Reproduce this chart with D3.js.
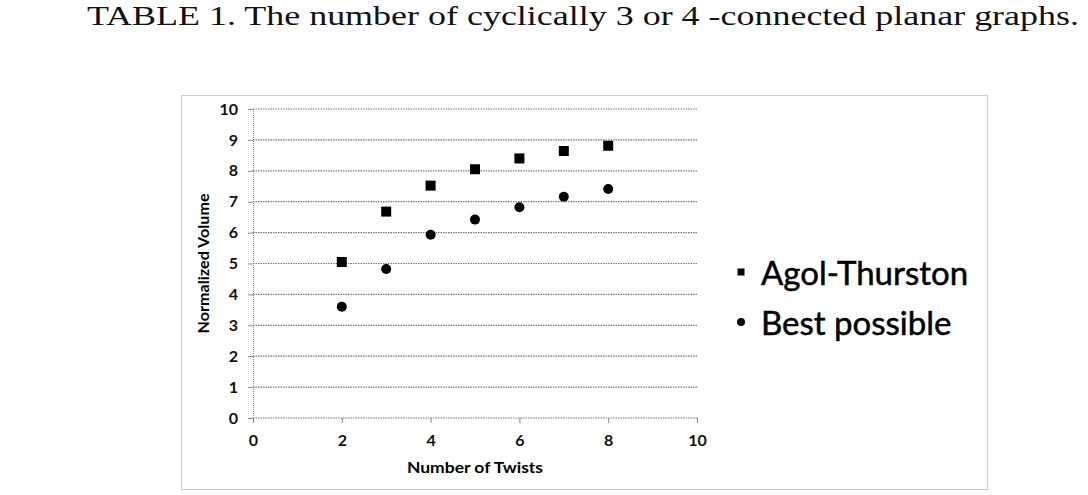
<!DOCTYPE html>
<html>
<head>
<meta charset="utf-8">
<script src="https://cdn.jsdelivr.net/npm/d3@7"></script>
<style>
  body { margin: 0; background: #fff; }
  .tick text { font-family: Lato, "Open Sans", sans-serif; font-weight: bold; font-size: 16px; fill: #111; }
</style>
</head>
<body>
<div id="chart"></div>
<script>
// values
const twists = [2, 3, 4, 5, 6, 7, 8];
const agolThurston = [5.05, 6.68, 7.52, 8.05, 8.4, 8.64, 8.81];
const bestPossible = [3.6, 4.82, 5.93, 6.42, 6.82, 7.16, 7.41];
const xTicks = [0, 2, 4, 6, 8, 10];
const yTicks = [0, 1, 2, 3, 4, 5, 6, 7, 8, 9, 10];
const seriesNames = ["Agol-Thurston", "Best possible"];
const caption = "TABLE 1.  The number of cyclically 3 or 4 -connected planar graphs.";

const W = 1088, H = 495;
const margin = ({ top: 109, right: 391, bottom: 77, left: 253 });
const width = W - margin.left - margin.right,
    height = H - margin.top - margin.bottom;

const root = d3.select("#chart").append("svg")
    .attr("width", W)
    .attr("height", H);

// caption of the previous table at the top edge of the scan
root.append("text")
    .attr("x", 87)
    .attr("y", 25)
    .attr("font-family", "'Liberation Serif', 'DejaVu Serif', serif")
    .attr("font-size", 27)
    .attr("fill", "#111")
    .attr("textLength", 992)
    .attr("lengthAdjust", "spacingAndGlyphs")
    .text(caption);

// outer frame of the chart
root.append("rect")
    .attr("x", 181.5)
    .attr("y", 95.5)
    .attr("width", 806)
    .attr("height", 394)
    .attr("fill", "none")
    .attr("stroke", "#999")
    .attr("stroke-dasharray", "1,1");

const svg = root.append("g")
    .attr("transform", "translate(" + margin.left + "," + margin.top + ")");

const xScale = d3.scaleLinear()
    .domain([0, 10])
    .range([0, width]);

const yScale = d3.scaleLinear()
    .domain([0, 10])
    .range([height, 0]);

const yAxis = d3.axisLeft(yScale)
    .tickValues(yTicks)
    .tickSize(5)
    .tickPadding(10)
    .tickFormat(d3.format("d"));

const xAxis = d3.axisBottom(xScale)
    .tickValues(xTicks)
    .tickSize(5)
    .tickPadding(12)
    .tickFormat(d3.format("d"));

// horizontal gridlines
svg.append("g")
    .selectAll("line")
    .data(yTicks)
    .join("line")
    .attr("x1", 0)
    .attr("x2", width)
    .attr("y1", d => yScale(d))
    .attr("y2", d => yScale(d))
    .attr("stroke", "#777")
    .attr("stroke-width", 1.2)
    .attr("stroke-dasharray", "1.5,1");

svg.append("g")
    .attr("class", "axis y-axis")
    .call(yAxis)
    .call(g => g.select(".domain").attr("stroke", "#888").attr("stroke-dasharray", "1,1"))
    .call(g => g.selectAll(".tick line").attr("stroke", "#888"));

svg.append("g")
    .attr("class", "axis x-axis")
    .attr("transform", `translate(0, ${height})`)
    .call(xAxis)
    .call(g => g.select(".domain").remove())
    .call(g => g.selectAll(".tick line").attr("stroke", "#888"));

svg.append("text")
    .attr("x", width / 2)
    .attr("y", height + 55)
    .attr("text-anchor", "middle")
    .attr("font-family", "Lato, sans-serif")
    .attr("font-weight", "bold")
    .attr("font-size", 16)
    .attr("textLength", 136)
    .attr("lengthAdjust", "spacingAndGlyphs")
    .text("Number of Twists");

svg.append("text")
    .attr("transform", `translate(-44, ${height / 2}) rotate(-90)`)
    .attr("text-anchor", "middle")
    .attr("font-family", "Lato, sans-serif")
    .attr("font-weight", "bold")
    .attr("font-size", 15)
    .attr("textLength", 140)
    .attr("lengthAdjust", "spacingAndGlyphs")
    .text("Normalized Volume");

const sq = 10, r = 5;

svg.append("g")
    .selectAll("rect")
    .data(twists)
    .join("rect")
    .attr("x", (d) => xScale(d) - sq / 2)
    .attr("y", (d, i) => yScale(agolThurston[i]) - sq / 2)
    .attr("width", sq)
    .attr("height", sq)
    .attr("fill", "#000");

svg.append("g")
    .selectAll("circle")
    .data(twists)
    .join("circle")
    .attr("cx", d => xScale(d))
    .attr("cy", (d, i) => yScale(bestPossible[i]))
    .attr("r", r)
    .attr("fill", "#000");

// legend
const legend = root.append("g")
    .attr("transform", "translate(741, 272)")
    .selectAll("g")
    .data(seriesNames)
    .join("g")
    .attr("transform", (d, i) => `translate(0, ${i * 50})`);

legend.filter((d, i) => i === 0).append("rect")
    .attr("x", -3.5).attr("y", -3.5).attr("width", 7).attr("height", 7)
    .attr("fill", "#000");
legend.filter((d, i) => i === 1).append("circle")
    .attr("r", 4).attr("fill", "#000");

legend.append("text")
    .attr("x", 20)
    .attr("y", 13)
    .attr("font-family", "Lato, sans-serif")
    .attr("font-size", 33)
    .attr("fill", "#000")
    .attr("stroke", "#000")
    .attr("stroke-width", 0.5)
    .text(d => d);
</script>
</body>
</html>
